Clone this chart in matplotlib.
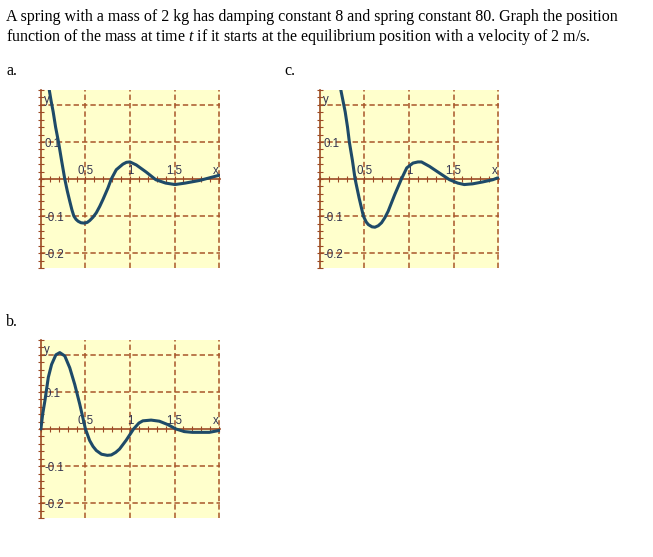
import matplotlib.pyplot as plt
from matplotlib.ticker import MultipleLocator

# curves: (t, y)
a_t = [0.094, 0.115, 0.138, 0.165, 0.198, 0.232, 0.268, 0.296, 0.324, 0.348, 0.37, 0.395,
       0.418, 0.45, 0.49, 0.52, 0.548, 0.585, 0.622, 0.66, 0.697, 0.753, 0.79, 0.846,
       0.92, 0.96, 1.0, 1.07, 1.18, 1.29, 1.40, 1.505, 1.62, 1.78, 1.89, 2.0]
a_y = [0.24, 0.21, 0.181, 0.14, 0.099, 0.05, 0.0, -0.032, -0.06, -0.083, -0.1, -0.109,
       -0.114, -0.118, -0.119, -0.117, -0.112, -0.103, -0.091, -0.074, -0.055, -0.024, 0.0, 0.025,
       0.04, 0.045, 0.046, 0.038, 0.019, -0.002, -0.011, -0.015, -0.011, -0.004, 0.003, 0.01]

b_t = [0.0, 0.02, 0.045, 0.083, 0.12, 0.168, 0.212, 0.268, 0.324, 0.38, 0.436, 0.5,
       0.547, 0.585, 0.622, 0.68, 0.745, 0.79, 0.84, 0.883, 0.958, 1.04, 1.1, 1.144,
       1.237, 1.33, 1.423, 1.516, 1.61, 1.70, 1.80, 1.89, 2.0]
b_y = [0.0, 0.04, 0.076, 0.139, 0.174, 0.2, 0.206, 0.197, 0.165, 0.12, 0.067, 0.0,
       -0.031, -0.047, -0.058, -0.068, -0.071, -0.07, -0.063, -0.054, -0.03, 0.0, 0.016, 0.022,
       0.024, 0.021, 0.012, 0.0, -0.007, -0.009, -0.009, -0.009, -0.004]

c_t = [0.235, 0.26, 0.284, 0.31, 0.331, 0.365, 0.395, 0.44, 0.488, 0.52, 0.544, 0.585,
       0.618, 0.655, 0.692, 0.73, 0.766, 0.84, 0.915, 0.975, 1.045, 1.10, 1.14, 1.23,
       1.342, 1.455, 1.547, 1.62, 1.715, 1.826, 1.94, 1.995]
c_y = [0.24, 0.21, 0.181, 0.14, 0.099, 0.05, 0.0, -0.051, -0.1, -0.116, -0.123, -0.129,
       -0.13, -0.126, -0.118, -0.104, -0.087, -0.042, 0.0, 0.03, 0.043, 0.046, 0.046, 0.034,
       0.016, -0.002, -0.011, -0.015, -0.013, -0.008, -0.002, 0.003]

x_grid = [0.5, 1.0, 1.5, 2.0]
y_grid = [-0.2, -0.1, 0.1, 0.2]
x_labels = ["0.5", "1", "1.5"]
y_labels = ["0.1", "-0.1", "-0.2"]
y_label_vals = [0.1, -0.1, -0.2]

question = ("A spring with a mass of 2 kg has damping constant 8 and spring constant 80. Graph the position\n"
            "function of the mass at time $t$ if it starts at the equilibrium position with a velocity of 2 m/s.")

YELLOW = "#ffffcc"
GRID = "#a8562a"
AXIS = "#9c4a25"
CURVE = "#1e4a68"
LABEL = "#333350"

plt.rcParams["font.family"] = ["Liberation Serif"]
plt.rcParams["mathtext.fontset"] = "custom"
plt.rcParams["mathtext.it"] = "Liberation Serif:italic"
plt.rcParams["mathtext.rm"] = "Liberation Serif"

W, H = 653, 557
fig = plt.figure(figsize=(W / 100, H / 100), dpi=100)


def make_panel(left, top, t, y):
    # left/top in pixels, panel is 180 x 178 px
    ax = fig.add_axes([left / W, 1 - (top + 178) / H, 180 / W, 178 / H])
    ax.set_facecolor(YELLOW)
    ax.set_xlim(-0.01, 2.01)
    ax.set_ylim(-0.24, 0.24)
    for g in x_grid:
        ax.axvline(g, color=GRID, lw=1.1, ls=(0, (3.5, 2)), zorder=1)
    for g in y_grid:
        ax.axhline(g, color=GRID, lw=1.1, ls=(0, (3.5, 2)), zorder=1)
    for s in ["top", "right"]:
        ax.spines[s].set_visible(False)
    ax.spines["left"].set_position(("data", 0))
    ax.spines["bottom"].set_position(("data", 0))
    for s in ["left", "bottom"]:
        ax.spines[s].set_color(AXIS)
        ax.spines[s].set_linewidth(1.2)
    ax.xaxis.set_major_locator(MultipleLocator(0.1))
    ax.yaxis.set_major_locator(MultipleLocator(0.02))
    ax.tick_params(direction="inout", length=4, width=0.8, color=AXIS,
                   labelbottom=False, labelleft=False)
    ax.plot(t, y, color=CURVE, lw=2.2, zorder=3, solid_capstyle="round",
            solid_joinstyle="round")
    for v, s in zip(x_grid[:3], x_labels):
        ax.text(v, 0.005, s, ha="center", va="bottom", fontsize=8.3,
                color=LABEL, family="Liberation Sans", zorder=2)
    for v, s in zip(y_label_vals, y_labels):
        ax.text(0.04, v - 0.005, s, ha="left", va="center", fontsize=8.3,
                color=LABEL, family="Liberation Sans", zorder=2)
    ax.text(1.96, 0.005, "x", ha="center", va="bottom", fontsize=8.3,
            color=LABEL, family="Liberation Sans", zorder=2)
    ax.text(0.03, 0.214, "y", ha="left", va="center", fontsize=8.3,
            color=LABEL, family="Liberation Sans", zorder=2)
    return ax


make_panel(40, 90, a_t, a_y)
make_panel(319, 90, c_t, c_y)
make_panel(40, 340, b_t, b_y)

fig.text(6 / W, 1 - 9 / H, question, ha="left", va="top", fontsize=11.5,
         linespacing=1.15)
fig.text(6 / W, 1 - 71 / H, "a.", ha="left", va="center", fontsize=11.5)
fig.text(284 / W, 1 - 71 / H, "c.", ha="left", va="center", fontsize=11.5)
fig.text(6 / W, 1 - 322 / H, "b.", ha="left", va="center", fontsize=11.5)

plt.savefig("out.png", dpi=100)
